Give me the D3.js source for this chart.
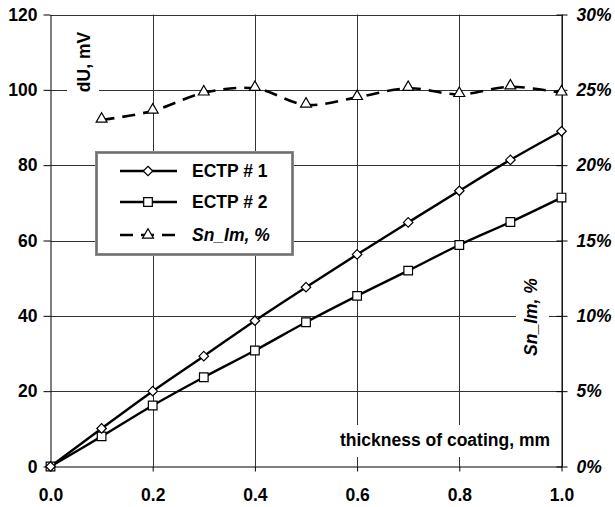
<!DOCTYPE html>
<html>
<head>
<meta charset="utf-8">
<script src="https://cdn.jsdelivr.net/npm/d3@7"></script>
<style>
  body { margin: 0; background: #fff; }
  svg text { font-family: "Liberation Sans", Arial, sans-serif; font-weight: bold; }
</style>
</head>
<body>
<svg width="615" height="507"></svg>
<script>
// thickness of coating, mm
const thickness = [0, 0.1, 0.2, 0.3, 0.4, 0.5, 0.6, 0.7, 0.8, 0.9, 1.0];
// dU, mV
const ectp1 = [0, 10.1, 20, 29.3, 38.7, 47.6, 56.3, 64.8, 73.2, 81.4, 89.0];
const ectp2 = [0, 8.0, 16.2, 23.7, 30.8, 38.3, 45.3, 52.0, 58.8, 64.9, 71.4];
// Sn_Im, % (starts at 0.1)
const snThickness = [0.1, 0.2, 0.3, 0.4, 0.5, 0.6, 0.7, 0.8, 0.9, 1.0];
const snIm = [0.230, 0.236, 0.248, 0.251, 0.240, 0.245, 0.251, 0.247, 0.252, 0.248];

const xTicks = [0, 0.2, 0.4, 0.6, 0.8, 1.0];
const yTicks = [0, 20, 40, 60, 80, 100, 120];
const y2Ticks = [0, 0.05, 0.10, 0.15, 0.20, 0.25, 0.30];

const svg = d3.select('svg');
const plot = { left: 50.5, right: 561.5, top: 14.5, bottom: 466.5 };

const x = d3.scaleLinear().domain([0, 1]).range([plot.left, plot.right]);
const y = d3.scaleLinear().domain([0, 120]).range([plot.bottom, plot.top]);
const y2 = d3.scaleLinear().domain([0, 0.30]).range([plot.bottom, plot.top]);

// grid
const grid = svg.append('g').attr('stroke', '#333').attr('stroke-width', 1);
grid.selectAll('.h').data(yTicks.slice(1)).enter().append('line')
  .attr('x1', plot.left).attr('x2', plot.right)
  .attr('y1', d => Math.round(y(d)) + 0.5).attr('y2', d => Math.round(y(d)) + 0.5);
grid.selectAll('.v').data(xTicks.slice(1)).enter().append('line')
  .attr('y1', plot.top).attr('y2', plot.bottom)
  .attr('x1', d => Math.round(x(d)) + 0.5).attr('x2', d => Math.round(x(d)) + 0.5);

// axes
const fontSize = '17.5px';
const gl = svg.append('g').attr('transform', `translate(${plot.left},0)`)
  .call(d3.axisLeft(y).tickValues(yTicks).tickSizeInner(7).tickSizeOuter(0).tickPadding(6));
const gr = svg.append('g').attr('transform', `translate(${plot.right},0)`)
  .call(d3.axisRight(y2).tickValues(y2Ticks).tickSizeInner(6).tickSizeOuter(0).tickPadding(9)
    .tickFormat(d3.format('.0%')));
gr.selectAll('.tick line').attr('x1', -5);
gr.selectAll('text').style('font-style', 'italic');
const gb = svg.append('g').attr('transform', `translate(0,${plot.bottom})`)
  .call(d3.axisBottom(x).tickValues(xTicks).tickSizeInner(5).tickSizeOuter(0).tickPadding(17)
    .tickFormat(d3.format('.1f')));
[gl, gr, gb].forEach(g => {
  g.selectAll('text').attr('font-size', fontSize).attr('font-family', null).attr('fill', '#000');
  g.selectAll('line, path').attr('stroke', '#000');
});

// axis titles with white background
const bg = svg.append('g').attr('fill', '#fff');
bg.append('rect').attr('x', 67).attr('y', 26).attr('width', 32).attr('height', 72);
bg.append('rect').attr('x', 516).attr('y', 274).attr('width', 33).attr('height', 86);
bg.append('rect').attr('x', 332).attr('y', 425).attr('width', 221).attr('height', 32);

svg.append('text').attr('transform', 'translate(90,62) rotate(-90)')
  .attr('text-anchor', 'middle').attr('font-size', fontSize).text('dU, mV');
svg.append('text').attr('transform', 'translate(537,317) rotate(-90)')
  .attr('text-anchor', 'middle').attr('font-size', fontSize).style('font-style', 'italic')
  .text('Sn_Im, %');
svg.append('text').attr('x', 550).attr('y', 446)
  .attr('text-anchor', 'end').attr('font-size', fontSize).text('thickness of coating, mm');

// series
const line1 = d3.line().x((d, i) => x(thickness[i])).y(d => y(d)).curve(d3.curveCatmullRom.alpha(0.5));
const line3 = d3.line().x((d, i) => x(snThickness[i])).y(d => y2(d)).curve(d3.curveCatmullRom.alpha(0.5));

svg.append('path').datum(snIm).attr('d', line3)
  .attr('fill', 'none').attr('stroke', '#000').attr('stroke-width', 2.6).attr('stroke-dasharray', '13,8');
svg.append('path').datum(ectp2).attr('d', line1)
  .attr('fill', 'none').attr('stroke', '#000').attr('stroke-width', 2.4);
svg.append('path').datum(ectp1).attr('d', line1)
  .attr('fill', 'none').attr('stroke', '#000').attr('stroke-width', 2.4);

const diamond = d3.symbol().type(d3.symbolDiamond2).size(58);
const square = d3.symbol().type(d3.symbolSquare2).size(95);
const triangle = d3.symbol().type(d3.symbolTriangle2).size(85);

function markers(data, xs, ys, sym) {
  svg.append('g').selectAll('path').data(data).enter().append('path')
    .attr('d', sym)
    .attr('transform', (d, i) => `translate(${xs(i)},${ys(d)})`)
    .attr('fill', '#fff').attr('stroke', '#000').attr('stroke-width', 1.2);
}
markers(snIm, i => x(snThickness[i]), d => y2(d) - 1, triangle);
markers(ectp2, i => x(thickness[i]), y, square);
markers(ectp1, i => x(thickness[i]), y, diamond);

// legend
const lg = svg.append('g');
lg.append('rect').attr('x', 96.5).attr('y', 152.5).attr('width', 196).attr('height', 102)
  .attr('fill', '#fff').attr('stroke', '#8a8a8a').attr('stroke-width', 3);
lg.append('rect').attr('x', 96.5).attr('y', 152.5).attr('width', 196).attr('height', 102)
  .attr('fill', 'none').attr('stroke', '#555').attr('stroke-width', 1).attr('stroke-dasharray', '1,1');
const items = [
  { name: 'ECTP # 1', sym: diamond, dash: null, italic: false, cy: 171 },
  { name: 'ECTP # 2', sym: square, dash: null, italic: false, cy: 202 },
  { name: 'Sn_Im, %', sym: triangle, dash: '13,8', italic: true, cy: 235 }
];
items.forEach(it => {
  lg.append('line').attr('x1', 120).attr('x2', 177).attr('y1', it.cy).attr('y2', it.cy)
    .attr('stroke', '#000').attr('stroke-width', 2.5).attr('stroke-dasharray', it.dash);
  lg.append('path').attr('d', it.sym).attr('transform', `translate(148,${it.cy})`)
    .attr('fill', '#fff').attr('stroke', '#000').attr('stroke-width', 1.2);
  lg.append('text').attr('x', 192).attr('y', it.cy + 6).attr('font-size', fontSize)
    .style('font-style', it.italic ? 'italic' : null).text(it.name);
});
</script>
</body>
</html>
